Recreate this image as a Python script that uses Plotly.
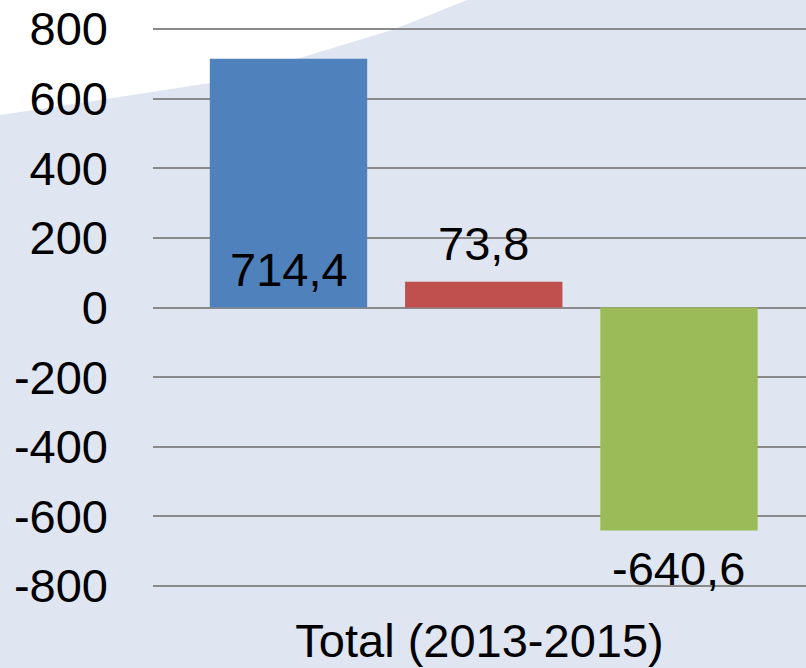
import plotly.graph_objects as go

categories = ["Total (2013-2015)"]
series_names = ["Series A", "Series B", "Series C"]
values = [714.4, 73.8, -640.6]
labels = ["714,4", "73,8", "-640,6"]
colors = ["#4f81bd", "#c0504d", "#9bbb59"]
tick_vals = [-800, -600, -400, -200, 0, 200, 400, 600, 800]
tick_text = ["-800", "-600", "-400", "-200", "0", "200", "400", "600", "800"]

bar_offsets = [-0.413, -0.114, 0.185]
bar_width = 0.241

FONT = "Liberation Sans, Arial, sans-serif"
FS = 47

fig = go.Figure()
for name, v, c, off in zip(series_names, values, colors, bar_offsets):
    fig.add_trace(go.Bar(
        x=categories, y=[v], name=name, marker=dict(color=c, line=dict(width=0)),
        offset=off, width=bar_width, hoverinfo="skip",
    ))

# data labels (blue inside base, red above, green below)
label_specs = [
    dict(y=0, yanchor="bottom", yshift=10),
    dict(y=values[1], yanchor="bottom", yshift=10),
    dict(y=values[2], yanchor="top", yshift=-10),
]
for lab, off, spec in zip(labels, bar_offsets, label_specs):
    fig.add_annotation(
        x=off + bar_width / 2, xref="x", yref="y", text=lab, showarrow=False,
        font=dict(family=FONT, size=FS, color="#000000"), xanchor="center",
        **spec,
    )

# decorative white swoosh in the top-left of the background (paper coords)
swoosh = [(-0.30, 0.835), (-0.2343, 0.8444), (-0.0812, 0.8712), (0.0873, 0.9016),
          (0.2251, 0.9463), (0.3706, 0.9982), (0.4809, 1.0501), (0.562, 1.0859)]
path = "M " + " L ".join(f"{x} {y}" for x, y in swoosh) + " L -0.30 1.0859 Z"
fig.add_shape(
    type="path", xref="paper", yref="paper", layer="below",
    path=path, fillcolor="#ffffff", line=dict(width=0),
)

fig.update_layout(
    width=806, height=668,
    margin=dict(l=153, r=0, t=28, b=81),
    paper_bgcolor="#dfe5f1", plot_bgcolor="rgba(0,0,0,0)",
    showlegend=False, barmode="overlay",
    font=dict(family=FONT, size=FS, color="#000000"),
    xaxis=dict(type="category", range=[-0.5, 0.5], showgrid=False, zeroline=False,
               showline=False, ticks="", ticklabelstandoff=22,
               tickfont=dict(family=FONT, size=FS, color="#000000")),
    yaxis=dict(range=[-803, 803], tickvals=tick_vals, ticktext=tick_text,
               showgrid=True, gridcolor="#8a8a8a", gridwidth=2,
               zeroline=True, zerolinecolor="#8a8a8a", zerolinewidth=2,
               showline=False, ticks="", ticklabelstandoff=44,
               tickfont=dict(family=FONT, size=FS, color="#000000")),
)

fig.write_html(
    "out.html",
    config={"displayModeBar": False},
    post_script="document.body.style.margin='0';document.body.style.overflow='hidden';",
)
